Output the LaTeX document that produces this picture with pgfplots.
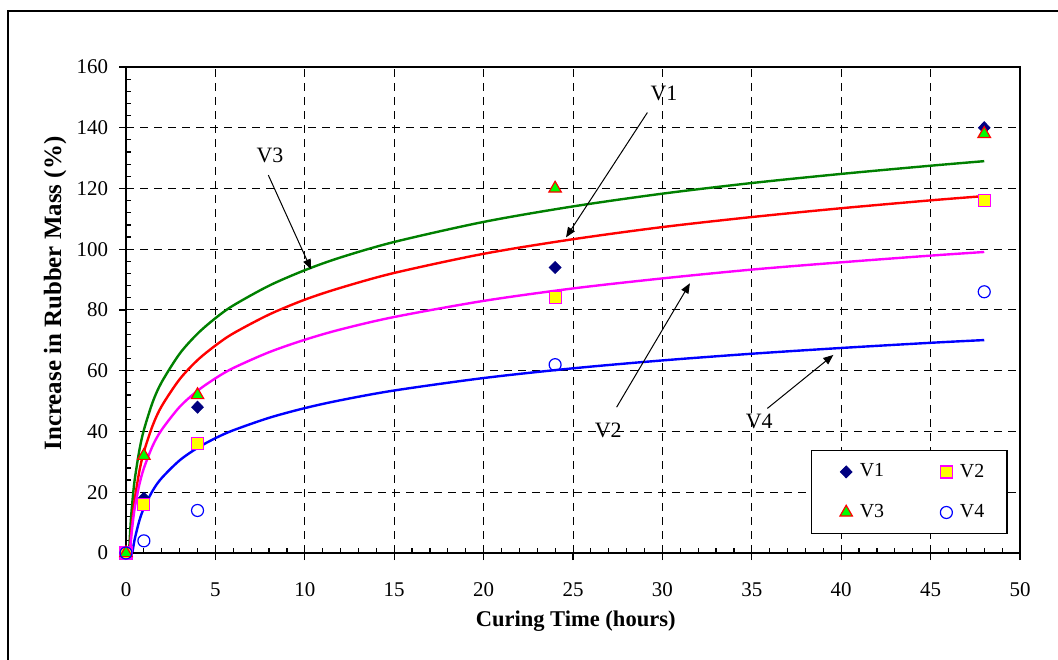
\documentclass[border=0pt]{standalone}
\usepackage{fontspec}
\setmainfont{Liberation Serif}
\usepackage{pgfplots}
\pgfplotsset{compat=1.18}
\usetikzlibrary{arrows.meta}
\definecolor{vnavy}{RGB}{0,0,128}
\definecolor{vgreen}{RGB}{0,128,0}
\definecolor{vred}{RGB}{255,0,0}
\definecolor{vmag}{RGB}{255,0,255}
\definecolor{vblue}{RGB}{0,0,255}
\definecolor{vyel}{RGB}{255,255,0}
\definecolor{vlgreen}{RGB}{0,255,0}
\begin{document}
\begin{tikzpicture}
\useasboundingbox (0,0) rectangle (529bp,330bp);
\draw[line width=1bp] (4bp,-10bp) -- (4bp,324.5bp) -- (545bp,324.5bp);
\begin{axis}[
  at={(63bp,53.5bp)}, anchor=south west,
  width=447bp, height=243bp, scale only axis,
  xmin=0, xmax=50, ymin=0, ymax=160,
  xtick={0,5,...,50}, ytick={0,20,...,160},
  minor x tick num=4, minor y tick num=4,
  tick pos=left, tick align=outside,
  major tick length=3.5bp, minor tick length=2.5bp,
  minor x tick style={yshift=2.5bp},
  minor y tick style={xshift=2.5bp},
  tick style={black, line width=0.6bp},
  grid=major,
  major grid style={black, dash pattern=on 4bp off 3bp, line width=0.5bp},
  axis line style={line width=0.6bp},
  clip=false,
  /pgf/number format/assume math mode=true,
  ticklabel style={font=\fontsize{10.5}{12}\selectfont},
  xticklabel style={yshift=-8bp},
  yticklabel style={xshift=-2bp},
  xlabel={Curing Time (hours)},
  ylabel={Increase in Rubber Mass (\%)},
  xlabel style={font=\fontsize{11.3}{13}\selectfont\bfseries, at={(axis description cs:0.503,-0.1399)}, anchor=center},
  ylabel style={font=\fontsize{12.5}{14}\selectfont\bfseries, at={(axis description cs:-0.0794,0.534)}, anchor=center},
  legend columns=2,
  legend image code/.code={\path (-17bp,0bp) (3bp,0bp); \draw[#1] plot coordinates {(0bp,0bp)};},
  legend style={at={(0.7662,0.2119)}, anchor=north west, draw=black, line width=0.6bp, fill=white,
    inner xsep=0bp, inner ysep=3.3bp, row sep=5.6bp, font=\fontsize{10}{12}\selectfont,
    nodes={inner xsep=3.5bp, inner ysep=3.3bp, text width=20bp, align=left},
    /tikz/every even column/.append style={column sep=2.5bp}},
]
% data points
\addplot[only marks, mark=diamond*, mark size=3bp, mark options={xscale=1.3, fill=vnavy, draw=vnavy, line width=0.4bp}]
  coordinates {(0,0) (1,18) (4,48) (24,94) (48,140)};
\addlegendentry{V1}
\addplot[only marks, mark=square*, mark size=3bp, mark options={fill=vyel, draw=vmag, line width=0.6bp}]
  coordinates {(0,0) (1,16) (4,36) (24,84) (48,116)};
\addlegendentry{V2}
\addplot[only marks, mark=triangle*, mark size=3.6bp, mark options={fill=vlgreen, draw=vred, line width=0.6bp}]
  coordinates {(0,0) (1,32) (4,52) (24,120) (48,138)};
\addlegendentry{V3}
\addplot[only marks, mark=o, mark size=3bp, mark options={draw=vblue, line width=0.6bp}]
  coordinates {(0,0) (1,4) (4,14) (24,62) (48,86)};
\addlegendentry{V4}
% fitted curves
\addplot[forget plot, vgreen, line width=1.2bp, no marks, smooth] coordinates {
(0.17,0) (0.2,3.7) (0.25,8.8) (0.3,13.0) (0.4,19.6) (0.5,24.7) (0.75,33.9) (1,40.5) (1.5,49.8) (2,56.3) (3,65.6) (4,72.2) (5,77.3) (6,81.5) (8,88.0) (10,93.1) (12,97.3) (15,102.4) (20,109.0) (25,114.1) (30,118.3) (35,121.8) (40,124.8) (45,127.5) (48,129.0)};
\addplot[forget plot, vred, line width=1.2bp, no marks, smooth] coordinates {
(0.216,0) (0.25,3.2) (0.3,7.1) (0.4,13.4) (0.5,18.2) (0.75,27.0) (1,33.3) (1.5,42.1) (2,48.4) (3,57.2) (4,63.5) (5,68.3) (6,72.3) (8,78.5) (10,83.4) (12,87.3) (15,92.2) (20,98.5) (25,103.3) (30,107.3) (35,110.6) (40,113.5) (45,116.1) (48,117.5)};
\addplot[forget plot, vmag, line width=1.2bp, no marks, smooth] coordinates {
(0.219,0) (0.25,2.4) (0.3,5.8) (0.4,11.0) (0.5,15.2) (0.75,22.6) (1,27.9) (1.5,35.4) (2,40.6) (3,48.1) (4,53.4) (5,57.5) (6,60.9) (8,66.1) (10,70.2) (12,73.6) (15,77.7) (20,83.0) (25,87.1) (30,90.4) (35,93.3) (40,95.7) (45,97.9) (48,99.1)};
\addplot[forget plot, vblue, line width=1.2bp, no marks, smooth] coordinates {
(0.354,0) (0.4,1.7) (0.5,4.9) (0.75,10.7) (1,14.8) (1.5,20.6) (2,24.7) (3,30.5) (4,34.6) (5,37.8) (6,40.4) (8,44.5) (10,47.7) (12,50.3) (15,53.5) (20,57.6) (25,60.8) (30,63.4) (35,65.6) (40,67.5) (45,69.2) (48,70.1)};
% thicker left and bottom axis lines
\draw[line width=1bp] (rel axis cs:0,1) -- (rel axis cs:0,0) -- (rel axis cs:1,0);
% annotations
\node[font=\fontsize{11}{13}\selectfont] at (axis cs:8.05,131.0) {V3};
\draw[-{Triangle[length=5bp,width=4bp]}, line width=0.5bp] (axis cs:7.96,124.4) -- (axis cs:10.35,93.4);
\node[font=\fontsize{11}{13}\selectfont] at (axis cs:30.09,151.3) {V1};
\draw[-{Triangle[length=5bp,width=4bp]}, line width=0.5bp] (axis cs:29.16,145.0) -- (axis cs:24.61,103.9);
\node[font=\fontsize{11}{13}\selectfont] at (axis cs:26.97,40.5) {V2};
\draw[-{Triangle[length=5bp,width=4bp]}, line width=0.5bp] (axis cs:27.44,48.0) -- (axis cs:31.54,88.8);
\node[font=\fontsize{11}{13}\selectfont] at (axis cs:35.42,43.2) {V4};
\draw[-{Triangle[length=5bp,width=4bp]}, line width=0.5bp] (axis cs:35.87,47.6) -- (axis cs:39.56,65.2);
\end{axis}
\end{tikzpicture}
\end{document}
